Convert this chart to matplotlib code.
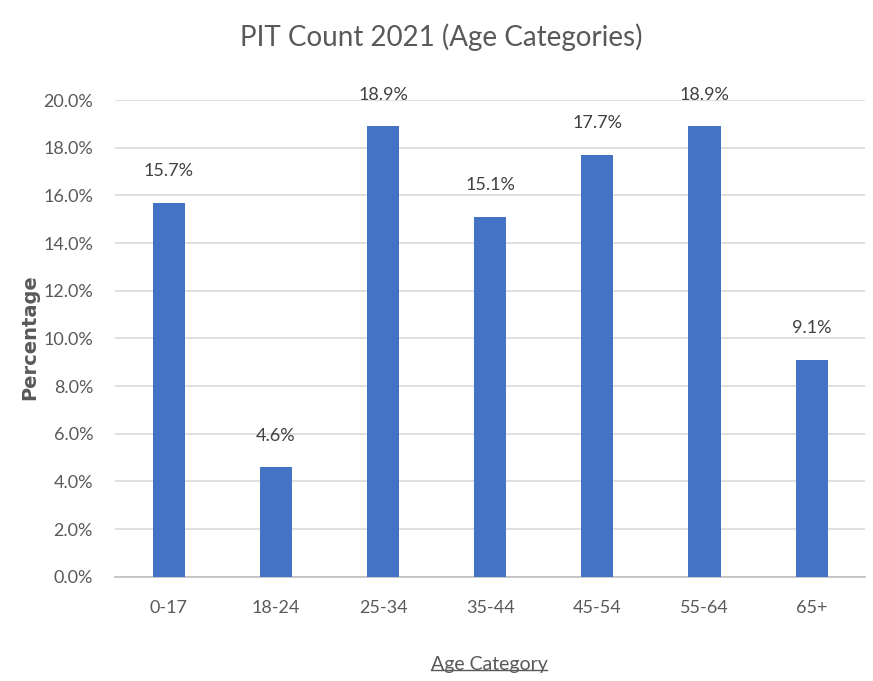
import numpy as np
import matplotlib
matplotlib.use("Agg")
import matplotlib.pyplot as plt
from matplotlib.lines import Line2D

# data
categories = ["0-17", "18-24", "25-34", "35-44", "45-54", "55-64", "65+"]
percent = [15.7, 4.6, 18.9, 15.1, 17.7, 18.9, 9.1]
yticks = [0, 2, 4, 6, 8, 10, 12, 14, 16, 18, 20]

narrow = ["Lato", "DejaVu Sans"]
grey = "#595959"

fig = plt.figure(figsize=(8.73, 6.81), dpi=100)
ax = fig.add_axes([0.132, 0.153, 0.859, 0.700])

x = np.arange(len(categories))
bars = ax.bar(x, percent, width=0.3, color="#4472C4", zorder=3)

for b, v in zip(bars, percent):
    ax.annotate("%.1f%%" % v, (b.get_x() + b.get_width() / 2, v),
                xytext=(0, 17), textcoords="offset points",
                ha="center", va="bottom", fontsize=13, color="#404040",
                family=narrow)

ax.set_xlim(-0.5, len(categories) - 0.5)
ax.set_ylim(0, 20)
ax.set_yticks(yticks)
ax.set_yticklabels(["%.1f%%" % t for t in yticks], family=narrow,
                   fontsize=13, color=grey)
ax.set_xticks(x)
ax.set_xticklabels(categories, family=narrow, fontsize=13, color=grey)
ax.tick_params(length=0, pad=16)
ax.tick_params(axis="x", pad=17)

ax.grid(axis="y", color="#D9D9D9", lw=1.2, zorder=0)
for s in ["top", "right", "left"]:
    ax.spines[s].set_visible(False)
ax.spines["bottom"].set_color("#BFBFBF")
ax.spines["bottom"].set_linewidth(1.2)

fig.text(0.505, 0.945, "PIT Count 2021 (Age Categories)", ha="center",
         va="center", fontsize=20, color=grey, family=narrow)
fig.text(0.034, 0.505, "Percentage", rotation=90, ha="center", va="center",
         fontsize=14, fontweight="bold", color=grey, family="DejaVu Sans")

# underlined x label
xl = fig.text(0.56, 0.012, "Age Category", ha="center", va="bottom",
              fontsize=14, color=grey, family=narrow)
fig.canvas.draw()
bb = xl.get_window_extent().transformed(fig.transFigure.inverted())
fig.add_artist(Line2D([bb.x0, bb.x1], [bb.y0 + 0.004, bb.y0 + 0.004],
                      color=grey, lw=1, transform=fig.transFigure))

fig.savefig("out.png", dpi=100)
